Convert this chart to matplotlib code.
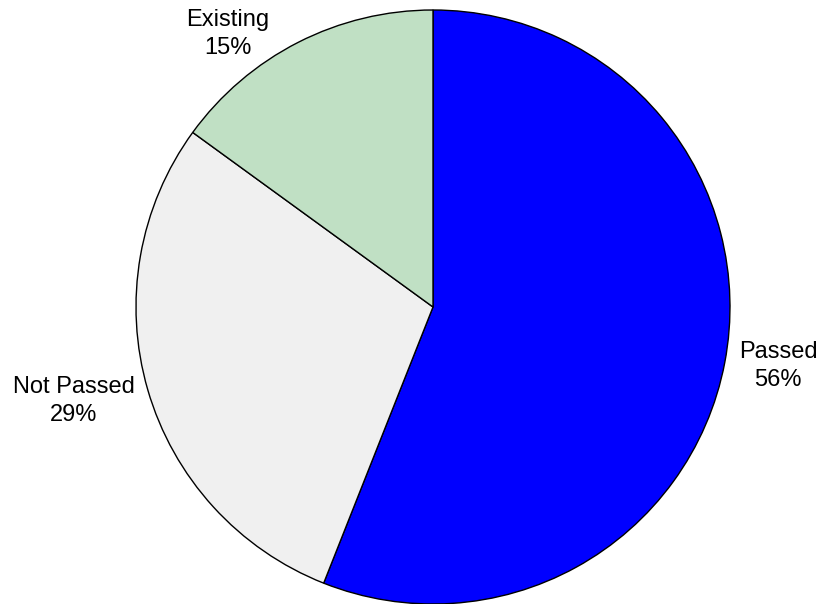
import matplotlib
matplotlib.use("Agg")
import matplotlib.pyplot as plt

labels = ["Passed", "Not Passed", "Existing"]
shares = [56, 29, 15]
colors = ["#0000ff", "#f0f0f0", "#c0e0c4"]

plt.rcParams["font.family"] = ["Liberation Sans", "DejaVu Sans"]

fig = plt.figure(figsize=(8.24, 6.04), dpi=100)
ax = fig.add_axes([0, 0, 1, 1])

# pie centre at (433, 307) px, radius 297 px
R = 297
cx, cy = 433, 307

_, texts = ax.pie(
    shares,
    labels=[f"{l}\n{s}%" for l, s in zip(labels, shares)],
    colors=colors,
    startangle=90,
    counterclock=False,
    wedgeprops={"edgecolor": "black", "linewidth": 1.0},
    textprops={"fontsize": 17, "color": "black"},
    frame=True,
)
ax.axis("off")
ax.set_xlim(-cx / R, (824 - cx) / R)
ax.set_ylim(-(604 - cy) / R, cy / R)

# label block centres, in pixels from top-left
label_px = [(778, 366), (74, 401), (228, 34)]
for t, (px, py) in zip(texts, label_px):
    t.set_position(((px - cx) / R, (cy - py) / R))
    t.set_ha("center")
    t.set_va("center")
    t.set_multialignment("center")
    t.set_linespacing(1.3)

fig.savefig("out.png", dpi=100)
